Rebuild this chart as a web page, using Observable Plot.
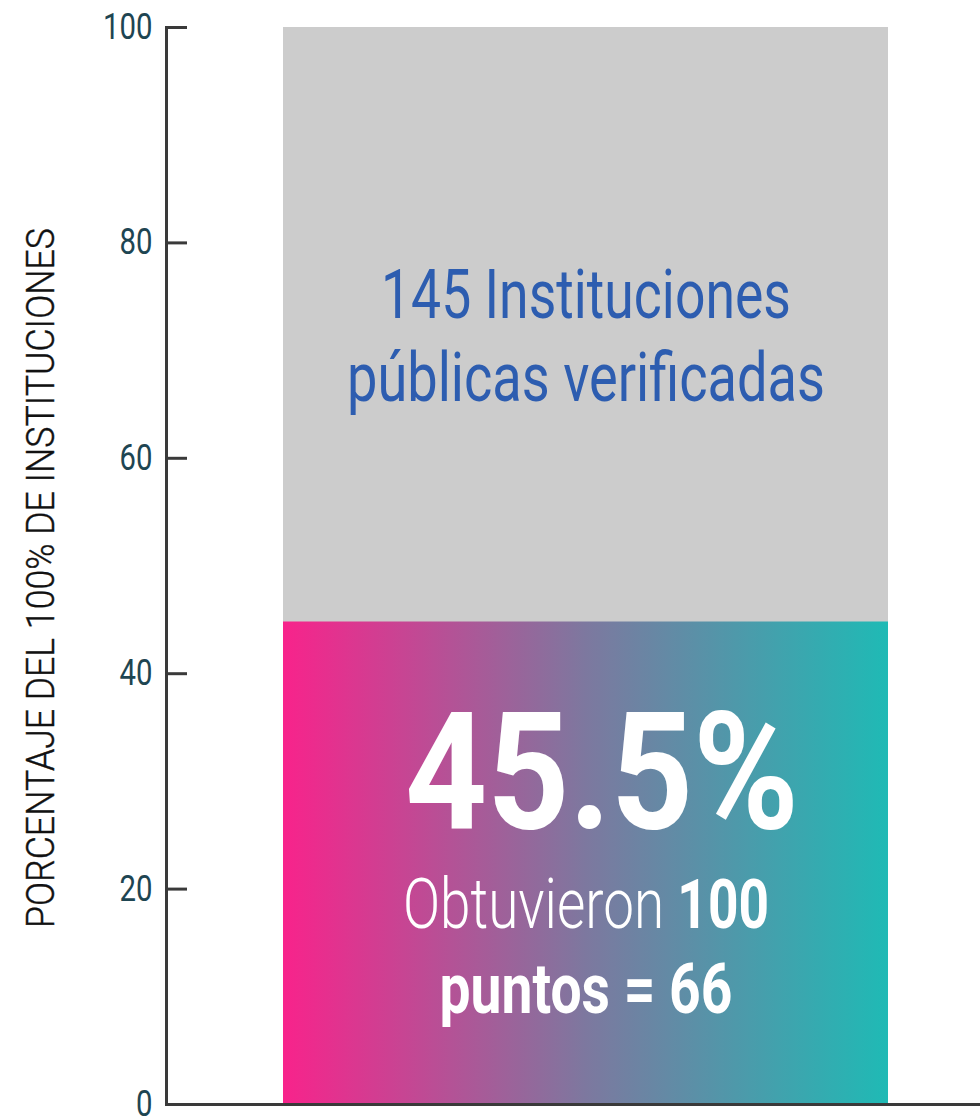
<!DOCTYPE html>
<html>
<head>
<meta charset="utf-8">
<script src="https://cdn.jsdelivr.net/npm/d3@7"></script>
<script src="https://cdn.jsdelivr.net/npm/@observablehq/plot@0.6"></script>
<style>
  html, body { margin: 0; padding: 0; background: #ffffff; }
</style>
</head>
<body>
<div id="chart"></div>
<script>
// ---- data ----
const categories = ["Instituciones públicas verificadas"];
const totalShare = [100];          // % of all institutions (gray bar)
const perfectShare = [44.8];       // % that obtained 100 points (gradient bar, as drawn)
const yTicks = [0, 20, 40, 60, 80, 100];
const yLabel = ["PORCENTAJE DEL 100% DE INSTITUCIONES"];
const grayLabelLines = ["145 Instituciones", "públicas verificadas"];
const headline = ["45.5%"];
const subLineLight = "Obtuvieron ";
const subLineBold = "100";
const lastLine = ["puntos = 66"];

const rows = categories.map((c, i) => ({category: c, total: totalShare[i], perfect: perfectShare[i]}));

const FONT = "Roboto, 'Noto Sans', sans-serif";

const gradientDefs = () => {
  const defs = d3.create("svg:defs");
  const g = defs.append("linearGradient").attr("id", "barGrad")
    .attr("x1", "0%").attr("x2", "100%").attr("y1", "0%").attr("y2", "0%");
  g.append("stop").attr("offset", "0%").attr("stop-color", "#f8238b");
  g.append("stop").attr("offset", "50%").attr("stop-color", "#7d789f");
  g.append("stop").attr("offset", "100%").attr("stop-color", "#1fbab5");
  return defs.node();
};

const mid = d => (d.perfect + d.total) / 2;
const low = d => d.perfect / 2;

const chart = Plot.plot({
  width: 980,
  height: 1118,
  marginLeft: 166,
  marginRight: 0,
  marginTop: 27,
  marginBottom: 14,
  style: {background: "#ffffff", fontFamily: FONT, overflow: "visible"},
  x: {domain: categories, padding: 0.1465, align: 0.5625, axis: null},
  y: {domain: [0, 100], axis: null},
  marks: [
    gradientDefs,
    Plot.barY(rows, {x: "category", y: "total", fill: "#cccccc"}),
    Plot.barY(rows, {x: "category", y: "perfect", fill: "url(#barGrad)"}),
    // axis ticks (pointing inward) and labels
    Plot.axisY({ticks: yTicks, tickSize: -21, tickFormat: () => "", stroke: "#3a3a3a", strokeWidth: 3, label: null}),
    Plot.axisY({ticks: yTicks, tickSize: 0, tickPadding: 14, fontSize: 36, fontWeight: 400, fontFamily: FONT,
      fill: "#1e4552", stroke: "#1e4552", strokeWidth: 0.7, label: null}),
    Plot.ruleY([0], {stroke: "#3a3a3a", strokeWidth: 3}),
    Plot.frame({anchor: "left", stroke: "#3a3a3a", strokeWidth: 3}),
    // axis title
    Plot.text(yLabel, {frameAnchor: "left", textAnchor: "middle", text: d => d, rotate: -90, dx: -125, dy: 12,
      fontSize: 38, fontWeight: 300, fill: "#111111", stroke: "#111111", strokeWidth: 0.4, fontFamily: FONT}),
    // gray segment label (two lines)
    Plot.text(rows, {x: "category", y: mid, text: () => grayLabelLines[0],
      lineAnchor: "bottom", dy: -7, fontSize: 69, fill: "#2d5db0", fontFamily: FONT}),
    Plot.text(rows, {x: "category", y: mid, text: () => grayLabelLines[1],
      lineAnchor: "bottom", dy: 76, fontSize: 69, fill: "#2d5db0", fontFamily: FONT}),
    // gradient segment labels
    Plot.text(rows, {x: "category", y: low, text: () => headline[0],
      lineAnchor: "bottom", dy: -35, dx: 16, fontSize: 163, fontWeight: 700, fill: "#ffffff", fontFamily: FONT}),
    Plot.text(rows, {x: "category", y: low, text: () => subLineLight + subLineBold,
      lineAnchor: "bottom", dy: 65, fontSize: 70, fontWeight: 300, fill: "#ffffff", fontFamily: FONT}),
    Plot.text(rows, {x: "category", y: low, text: () => lastLine[0],
      lineAnchor: "bottom", dy: 150, fontSize: 70, fontWeight: 700, fill: "#ffffff", fontFamily: FONT})
  ]
});

document.getElementById("chart").appendChild(chart);

// condensed look: fit texts to the widths they occupy in the reference
const targetWidth = new Map([
  [yLabel[0], 700],
  [grayLabelLines[0], 410],
  [grayLabelLines[1], 478],
  [headline[0], 394],
  [subLineLight + subLineBold, 366],
  [lastLine[0], 293]
]);
d3.select(chart).selectAll("text").each(function () {
  const s = this.textContent;
  if (s === subLineLight + subLineBold) {
    const t = d3.select(this);
    t.text(null);
    t.append("tspan").attr("font-weight", 300).text(subLineLight);
    t.append("tspan").attr("font-weight", 700).attr("font-size", 68).text(subLineBold);
  }
  if (targetWidth.has(s)) {
    this.setAttribute("textLength", targetWidth.get(s));
    this.setAttribute("lengthAdjust", "spacingAndGlyphs");
  } else if (/^\d+$/.test(s)) {
    this.setAttribute("textLength", s.length * 16.5);
    this.setAttribute("lengthAdjust", "spacingAndGlyphs");
  }
});
</script>
</body>
</html>
